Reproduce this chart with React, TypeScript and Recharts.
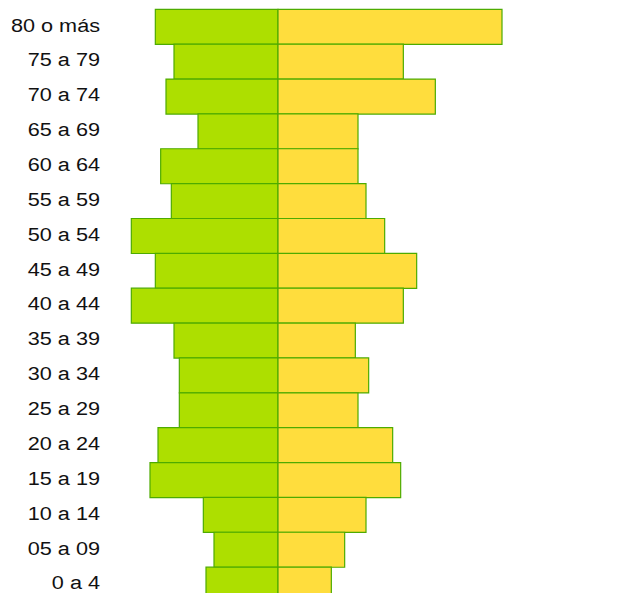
import React from "react";
import { BarChart, Bar, XAxis, YAxis } from "recharts";

const categories = [
  "80 o más", "75 a 79", "70 a 74", "65 a 69", "60 a 64", "55 a 59",
  "50 a 54", "45 a 49", "40 a 44", "35 a 39", "30 a 34", "25 a 29",
  "20 a 24", "15 a 19", "10 a 14", "05 a 09", "0 a 4",
];
const hombres = [46, 39, 42, 30, 44, 40, 55, 46, 55, 39, 37, 37, 45, 48, 28, 24, 27];
const mujeres = [84, 47, 59, 30, 30, 33, 40, 52, 47, 29, 34, 30, 43, 46, 33, 25, 20];

const data = categories.map((c, i) => ({
  grupo: c,
  hombres: -hombres[i],
  mujeres: mujeres[i],
}));

const Tick = (props: any) => {
  const { x, y, payload } = props;
  return (
    <text
      transform={`translate(${x},${y}) scale(1.14,1)`}
      x={0}
      y={0}
      dy={4.8}
      textAnchor="end"
      fontFamily="'Liberation Sans', Arial, sans-serif"
      fontSize={19}
      fill="#111"
    >
      {payload.value}
    </text>
  );
};

export default function App() {
  return (
    <BarChart
      width={600}
      height={594}
      data={data}
      layout="vertical"
      stackOffset="sign"
      barCategoryGap={0}
      margin={{ top: 1.3, right: 10, bottom: 0, left: 0 }}
    >
      <XAxis type="number" domain={[-63, 120]} hide allowDataOverflow />
      <YAxis
        type="category"
        dataKey="grupo"
        width={102}
        axisLine={false}
        tickLine={false}
        tickSize={0}
        tickMargin={10}
        interval={0}
        tick={<Tick />}
      />
      <Bar
        dataKey="hombres"
        stackId="a"
        fill="#addf00"
        stroke="#4eab00"
        strokeWidth={1.2}
        isAnimationActive={false}
      />
      <Bar
        dataKey="mujeres"
        stackId="a"
        fill="#ffdd3d"
        stroke="#4eab00"
        strokeWidth={1.2}
        isAnimationActive={false}
      />
    </BarChart>
  );
}
